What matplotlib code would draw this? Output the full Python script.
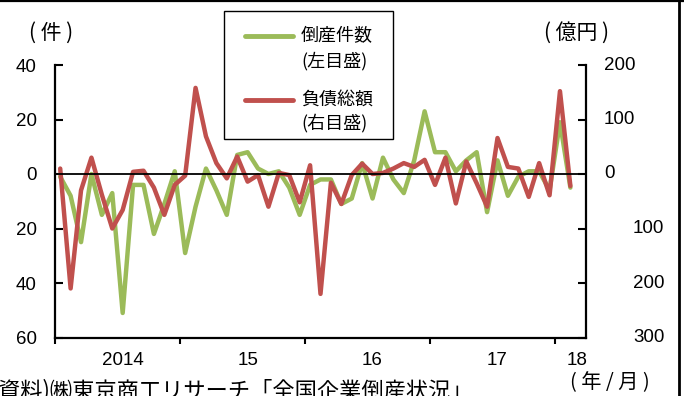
import matplotlib
matplotlib.use("Agg")
import matplotlib.pyplot as plt
import matplotlib.transforms as mtransforms
from matplotlib import font_manager
from matplotlib.lines import Line2D
from matplotlib.patches import Rectangle
import numpy as np
import pandas as pd

# ---------------- data ----------------
months = pd.period_range("2014-01", "2018-02", freq="M").astype(str).tolist()

# 倒産件数 前年同月比増減（件, left axis)
bankrupt_count = [-1, -8, -25, 0, -15, -7, -51, -4, -4, -22, -11, 1,
                  -29, -12, 2, -6, -15, 7, 8, 2, 0, 1, -5, -15,
                  -4, -2, -2, -11, -9, 4, -9, 6, -2, -7, 5, 23,
                  8, 8, 1, 5, 8, -14, 5, -8, -1, 1, 1, -6,
                  19, -5]

# 負債総額 前年同月比増減（億円, right axis)
debt_total = [10, -210, -30, 30, -38, -100, -66, 4, 6, -25, -75, -20,
              -3, 158, 69, 20, -8, 32, -14, -2, -60, 2, -2, -52,
              16, -220, -16, -55, -2, 19, 0, 2, 10, 20, 13, 26,
              -20, 30, -54, 23, -17, -60, 66, 13, 10, -42, 20, -39,
              152, -22]

left_ticks = [40, 20, 0, -20, -40, -60]
left_labels = ["40", "20", "0", "20", "40", "60"]
right_ticks = [200, 100, 0, -100, -200, -300]
right_labels = ["200", "100", "0", "100", "200", "300"]
year_labels = ["2014", "15", "16", "17", "18"]
year_label_pos = [6, 18, 30, 42, 49.6]
year_boundaries = [-0.5, 11.5, 23.5, 35.5, 47.5]

series_names = ["倒産件数", "負債総額"]
series_notes = ["(左目盛)", "(右目盛)"]

GREEN = "#9BBB59"
RED = "#C0504D"

# ---------------- fonts ----------------
names = {f.name for f in font_manager.fontManager.ttflist}
if "Liberation Sans Narrow" in names:
    NUM, NUM_SIZE = "Liberation Sans Narrow", 15
else:
    NUM, NUM_SIZE = "Liberation Sans", 13.5
CJK = ["Noto Sans CJK JP", "DejaVu Sans"]

W, H = 684, 396
fig = plt.figure(figsize=(W / 100, H / 100), dpi=100)
fig.patch.set_facecolor("white")

ax = fig.add_axes([55 / W, 1 - 337.5 / H, 531 / W, (337.5 - 65) / H])
ax.set_xlim(-0.5, 50.5)
ax.set_ylim(-60, 40)
ax2 = ax.twinx()
ax2.set_ylim(-300, 200)

x = np.arange(len(months))
ax.plot(x, bankrupt_count, color=GREEN, lw=3.2, solid_capstyle="round", zorder=3)
ax2.plot(x, debt_total, color=RED, lw=3.2, solid_capstyle="round", zorder=3)
ax2.axhline(0, color="black", lw=1.3, zorder=5)

# spines
for s in ["top", "right"]:
    ax.spines[s].set_visible(False)
for s in ["top", "left", "bottom"]:
    ax2.spines[s].set_visible(False)
ax.spines["left"].set_linewidth(1.6)
ax.spines["bottom"].set_linewidth(1.6)
ax2.spines["right"].set_linewidth(1.6)

# left axis
ax.set_yticks(left_ticks)
ax.set_yticklabels(left_labels, fontfamily=NUM, fontsize=NUM_SIZE)
ax.tick_params(axis="y", direction="in", length=5.5, width=1.5, pad=13)

# x axis
ax.set_xticks(year_boundaries)
ax.set_xticklabels([])
ax.tick_params(axis="x", which="major", direction="out", length=4.5, width=1.5)
ax.set_xticks(year_label_pos, minor=True)
ax.set_xticklabels(year_labels, minor=True, fontfamily=NUM, fontsize=NUM_SIZE)
ax.tick_params(axis="x", which="minor", length=0, pad=10.5)

# right axis
ax2.set_yticks(right_ticks)
ax2.set_yticklabels([])
ax2.tick_params(axis="y", direction="in", length=5.5, width=1.5)
tr = mtransforms.blended_transform_factory(ax2.transAxes, ax2.transData)
for v, lab in zip(right_ticks, right_labels):
    xa = (604 - 55) / 531 if v >= 0 else (633 - 55) / 531
    ax2.text(xa, v, lab, transform=tr, ha="left", va="center",
             fontfamily=NUM, fontsize=NUM_SIZE, clip_on=False)

# unit labels
fig.text(51 / W, 1 - 33 / H, "( 件 )", ha="center", va="center", family=CJK, size=15)
fig.text(577 / W, 1 - 33 / H, "( 億円 )", ha="center", va="center", family=CJK, size=15)
fig.text(610 / W, 1 - 383 / H, "( 年 / 月 )", ha="center", va="center", family=CJK, size=14.5)

# legend box (manual)
fig.add_artist(Rectangle((224 / W, 1 - 139 / H), (393 - 224) / W, (139 - 11) / H,
                         transform=fig.transFigure, fc="white", ec="black", lw=1.0, zorder=6))
for col, name, note, yl, yn in [(GREEN, series_names[0], series_notes[0], 36, 61),
                                (RED, series_names[1], series_notes[1], 100, 123)]:
    fig.add_artist(Line2D([245 / W, 293 / W], [1 - yl / H] * 2, color=col, lw=3.5,
                          solid_capstyle="round", transform=fig.transFigure, zorder=7))
    fig.text(301 / W, 1 - yl / H, name, ha="left", va="center", family=CJK, size=13, zorder=7)
    fig.text(301 / W, 1 - yn / H, note, ha="left", va="center", family=CJK, size=13, zorder=7)

# source (cut at bottom edge, as in the reference)
fig.text(-2 / W, -1 / H, "資料)㈱東京商工リサーチ「全国企業倒産状況」", ha="left",
         va="baseline", family=CJK, size=16)

# figure border (top and right)
fig.add_artist(Line2D([0, 1], [1 - 1 / H] * 2, color="black", lw=1.6, transform=fig.transFigure))
fig.add_artist(Line2D([679 / W] * 2, [0, 1], color="black", lw=2.0, transform=fig.transFigure))

fig.savefig("out.png", dpi=100)
